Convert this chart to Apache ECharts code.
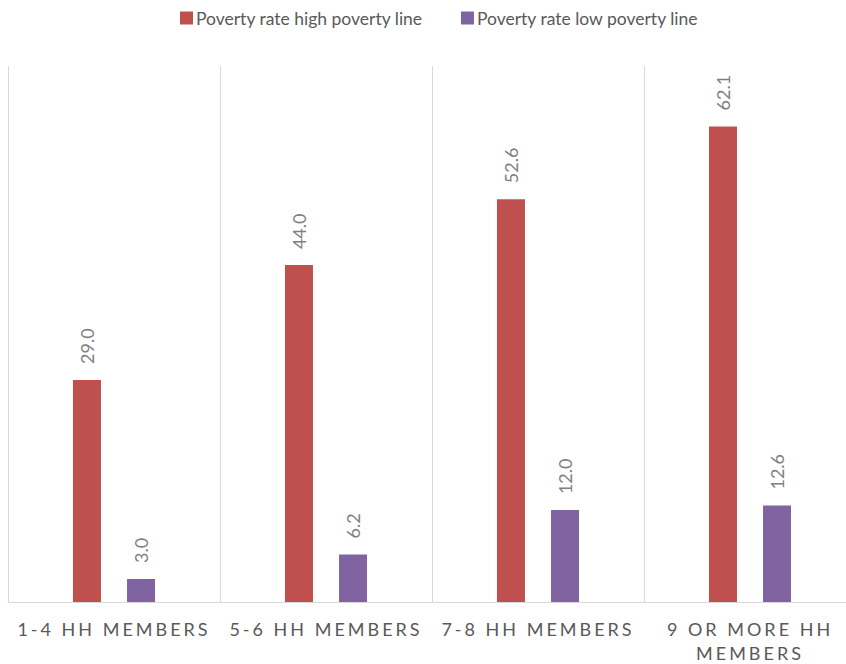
<!DOCTYPE html>
<html>
<head>
<meta charset="utf-8">
<script src="https://cdn.jsdelivr.net/npm/echarts@6/dist/echarts.min.js"></script>
<style>
html,body{margin:0;padding:0;background:#fff;}
#c{width:846px;height:664px;}
</style>
</head>
<body>
<div id="c"></div>
<script>
const categories = ['1-4 HH MEMBERS', '5-6 HH MEMBERS', '7-8 HH MEMBERS', '9 OR MORE HH\nMEMBERS'];
const highLine = [29.0, 44.0, 52.6, 62.1];
const lowLine = [3.0, 6.2, 12.0, 12.6];
const seriesNames = ['Poverty rate high poverty line', 'Poverty rate low poverty line'];

const chart = echarts.init(document.getElementById('c'), null, {renderer: 'svg'});
const labelCfg = {
  show: true,
  position: 'top',
  rotate: 90,
  align: 'left',
  verticalAlign: 'middle',
  distance: 16,
  color: '#7F7F7F',
  fontSize: 18,
  fontFamily: 'Lato',
  formatter: p => p.value.toFixed(1)
};
chart.setOption({
  animation: false,
  backgroundColor: '#fff',
  textStyle: {fontFamily: 'Lato'},
  legend: {
    top: 4,
    left: 175,
    itemWidth: 13,
    itemHeight: 13,
    itemGap: 38,
    icon: 'rect',
    textStyle: {color: '#595959', fontSize: 17.5, fontFamily: 'Lato', padding: [0, 0, 0, -2]},
    data: seriesNames
  },
  grid: {left: 8, top: 66, bottom: 62, width: 848, containLabel: false, outerBoundsMode: 'none'},
  xAxis: {
    type: 'category',
    data: categories,
    axisLine: {show: true, lineStyle: {color: '#D9D9D9', width: 1}},
    axisTick: {show: false},
    splitLine: {show: true, lineStyle: {color: '#D9D9D9', width: 1}},
    axisLabel: {
      color: '#595959', fontSize: 18, fontFamily: 'Lato', margin: 15, lineHeight: 24, interval: 0
    }
  },
  yAxis: {
    type: 'value', min: 0, max: 70, show: false, splitLine: {show: false}
  },
  series: [
    {name: seriesNames[0], type: 'bar', data: highLine, barWidth: 28, barGap: '93%',
     itemStyle: {color: '#C0504D'}, label: labelCfg},
    {name: seriesNames[1], type: 'bar', data: lowLine, barWidth: 28, barGap: '93%',
     itemStyle: {color: '#8064A2'}, label: labelCfg}
  ]
});
function spaceLabels(){
  const lines = new Set();
  categories.forEach(c => c.split('\n').forEach(l => lines.add(l)));
  document.querySelectorAll('#c svg text').forEach(t => {
    const txt = (t.textContent || '').trim();
    if (lines.has(txt)) { t.style.letterSpacing = '3px'; }
    t.querySelectorAll('tspan').forEach(ts => { if (lines.has(ts.textContent.trim())) ts.style.letterSpacing = '3px'; });
  });
}
chart.on('finished', spaceLabels);
spaceLabels();
</script>
</body>
</html>
